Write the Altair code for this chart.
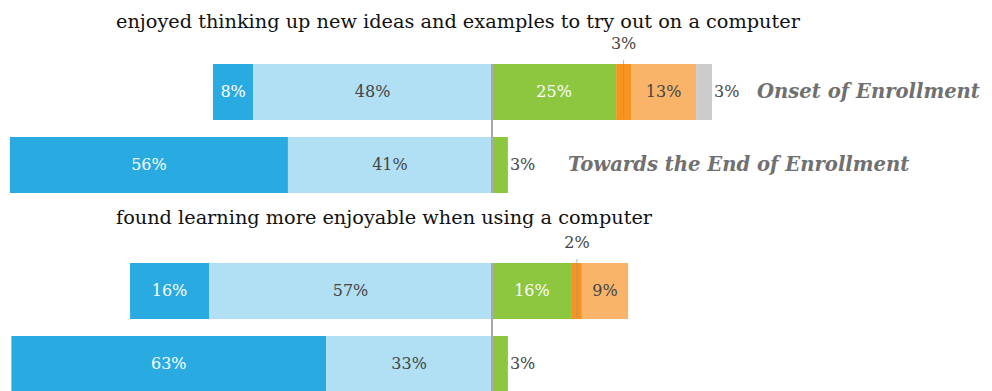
import altair as alt
import pandas as pd

questions = [
    "enjoyed thinking up new ideas and examples to try out on a computer",
    "found learning more enjoyable when using a computer",
]
periods = ["Onset of Enrollment", "Towards the End of Enrollment"]
categories = ["Strongly agree", "Agree", "Neutral", "Disagree", "Strongly disagree", "No response"]
colors = ["#29ABE2", "#B1E0F4", "#8DC63F", "#F7931E", "#FAB46A", "#CCCCCC"]
label_colors = ["#FFFFFF", "#444444", "#FFFFFF", "#444444", "#444444", "#444444"]

q1_onset = [8.1, 48.1, 25.0, 3.0, 13.1, 3.2]
q1_end = [56.0, 41.1, 3.2, 0, 0, 0]
q2_onset = [15.9, 57.0, 16.1, 2.0, 9.3, 0]
q2_end = [63.4, 33.4, 3.2, 0, 0, 0]

values = {
    (questions[0], periods[0]): q1_onset,
    (questions[0], periods[1]): q1_end,
    (questions[1], periods[0]): q2_onset,
    (questions[1], periods[1]): q2_end,
}

rows = []
for (q, p), vals in values.items():
    left_total = vals[0] + vals[1]
    starts = [-left_total, -vals[1]]
    cum = 0
    for v in vals[2:]:
        starts.append(cum)
        cum += v
    right_end = cum
    last_nonzero = max(i for i, v in enumerate(vals) if v > 0)
    for i, v in enumerate(vals):
        if v <= 0:
            continue
        s = starts[i]
        e = s + v
        if v >= 8:
            place = "inside"
        elif i == last_nonzero:
            place = "right"
        else:
            place = "above"
        rows.append(dict(question=q, period=p, category=categories[i], value=v,
                         start=s, end=e, mid=(s + e) / 2, place=place,
                         label=f"{round(v)}%", tcolor=label_colors[i], row_end=right_end))

df = pd.DataFrame(rows)

X_DOMAIN = [-97.48, 99.09]
FONT = "DejaVu Serif"


def panel(q, show_names, title_offset):
    d = df[df.question == q]
    base = alt.Chart(d)
    xs = alt.Scale(domain=X_DOMAIN, nice=False, zero=False)
    ys = alt.Scale(domain=periods, paddingInner=17 / 73, paddingOuter=0)
    y = alt.Y("period:N", scale=ys, axis=None, sort=periods)

    bars = base.mark_bar(cornerRadius=0).encode(
        x=alt.X("start:Q", scale=xs, axis=None),
        x2="end:Q",
        y=y,
        color=alt.Color("category:N", scale=alt.Scale(domain=categories, range=colors), legend=None),
    )
    center = alt.Chart(pd.DataFrame({"x": [0]})).mark_rule(color="#A8A8A8", strokeWidth=2).encode(
        x=alt.X("x:Q", scale=xs, axis=None)
    )
    inside = base.transform_filter(alt.datum.place == "inside").mark_text(
        font=FONT, fontSize=16, baseline="middle", align="center"
    ).encode(
        x=alt.X("mid:Q", scale=xs, axis=None), y=y, text="label:N",
        color=alt.Color("tcolor:N", scale=None),
    )
    right = base.transform_filter(alt.datum.place == "right").mark_text(
        font=FONT, fontSize=16, baseline="middle", align="left", dx=2, color="#444444"
    ).encode(x=alt.X("end:Q", scale=xs, axis=None), y=y, text="label:N")
    above = base.transform_filter(alt.datum.place == "above").mark_text(
        font=FONT, fontSize=16, baseline="middle", align="center", dy=-48, color="#444444"
    ).encode(x=alt.X("mid:Q", scale=xs, axis=None), y=y, text="label:N")
    leader = base.transform_filter(alt.datum.place == "above").mark_tick(
        color="#999999", thickness=1, size=58, orient="vertical", yOffset=-3
    ).encode(x=alt.X("mid:Q", scale=xs, axis=None), y=y)

    layers = [bars, center, inside, right, leader, above]
    if show_names:
        names = base.transform_filter(alt.datum.category == categories[0])
        for p, dx in zip(periods, [45, 60]):
            layers.append(
                names.transform_filter(alt.datum.period == p).mark_text(
                    font=FONT, fontSize=19.6, fontStyle="italic", fontWeight="bold",
                    align="left", baseline="middle", dx=dx, color="#707070"
                ).encode(x=alt.X("row_end:Q", scale=xs, axis=None), y=y, text="period:N")
            )
    return alt.layer(*layers).properties(
        width=976, height=129,
        title=alt.TitleParams(q, anchor="start", dx=108, font=FONT, fontSize=19.3,
                              fontWeight="normal", color="#111111", offset=title_offset),
    )


chart = alt.vconcat(
    panel(questions[0], True, 4),
    panel(questions[1], False, 7),
    spacing=14,
).properties(padding={"top": 4, "left": 0, "right": 0, "bottom": 0}).configure_view(stroke=None)

chart.save("out.html", embed_options={"renderer": "svg", "actions": False})
